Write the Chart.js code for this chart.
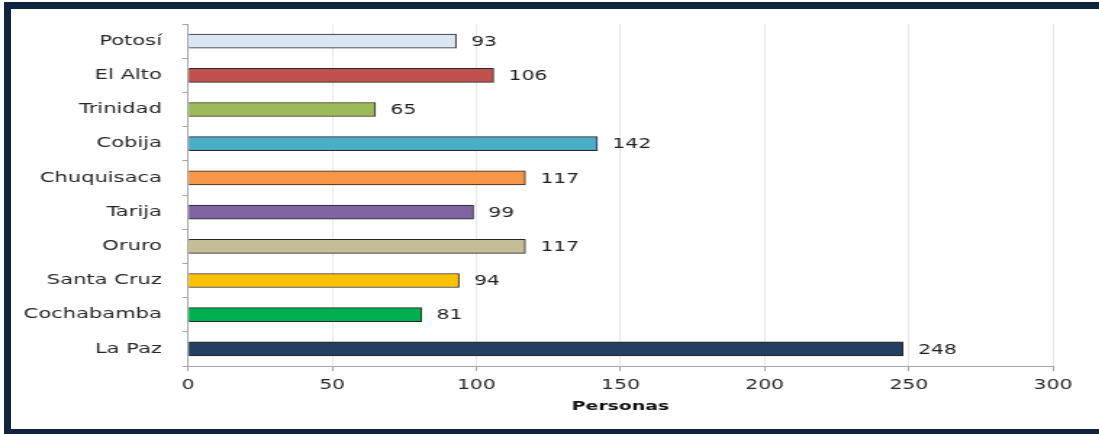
<!DOCTYPE html>
<html>
<head>
<meta charset="utf-8">
<script src="https://cdn.jsdelivr.net/npm/chart.js@4.4.1/dist/chart.umd.min.js"></script>
<style>
html, body { margin: 0; padding: 0; background: #fff; }
#wrap { position: relative; width: 1099px; height: 434px; overflow: hidden; }
#frame {
    position: absolute; left: 4px; top: 2px; width: 1095px; height: 432px;
    box-sizing: border-box;
    border-top: 7px solid #10243f; border-left: 7px solid #10243f; border-bottom: 5px solid #10243f;
}
/* the picture is stretched sideways, so draw narrow and widen it */
#chart { position: absolute; left: 0; top: 0; transform: scaleX(1.45); transform-origin: 0 0; }
</style>
</head>
<body>
<div id="wrap">
    <div id="frame"></div>
    <canvas id="chart" width="758" height="434"></canvas>
</div>
<script>
const categories = ['Potosí', 'El Alto', 'Trinidad', 'Cobija', 'Chuquisaca', 'Tarija', 'Oruro', 'Santa Cruz', 'Cochabamba', 'La Paz'];
const personas = [93, 106, 65, 142, 117, 99, 117, 94, 81, 248];
const barColors = ['#dce6f2', '#c0504d', '#9bbb59', '#4bacc6', '#f79646', '#8064a2', '#c4bd97', '#ffc000', '#00b050', '#243f60'];
const xTicks = [0, 50, 100, 150, 200, 250, 300];

const S = 1.45; // horizontal stretch
const FONT = 'DejaVu Sans';

// value labels at the end of each bar
const valueLabels = {
    id: 'valueLabels',
    afterDatasetsDraw(chart) {
        const ctx = chart.ctx;
        const meta = chart.getDatasetMeta(0);
        ctx.save();
        ctx.font = '14px "' + FONT + '"';
        ctx.fillStyle = '#1f1f1f';
        ctx.textAlign = 'left';
        ctx.textBaseline = 'middle';
        meta.data.forEach((bar, i) => {
            ctx.fillText(String(personas[i]), bar.x + 15 / S, bar.y + 1);
        });
        ctx.restore();
    }
};

new Chart(document.getElementById('chart'), {
    type: 'bar',
    data: {
        labels: categories,
        datasets: [{
            data: personas,
            backgroundColor: barColors,
            borderColor: '#262626',
            borderWidth: 1,
            barThickness: 14
        }]
    },
    plugins: [valueLabels],
    options: {
        indexAxis: 'y',
        responsive: false,
        animation: false,
        layout: { padding: { left: 0, top: 24, right: 758 - 1053 / S, bottom: 16 } },
        plugins: {
            legend: { display: false },
            tooltip: { enabled: false }
        },
        scales: {
            x: {
                min: xTicks[0],
                max: xTicks[xTicks.length - 1],
                afterBuildTicks: (scale) => { scale.ticks = xTicks.map(v => ({ value: v })); },
                afterFit: (scale) => { scale.height = 52; },
                grid: { color: '#e8e8e8', tickColor: '#a6a6a6', tickLength: 5 },
                border: { color: '#a6a6a6' },
                ticks: { color: '#262626', padding: 6, font: { family: FONT, size: 14 } },
                title: {
                    display: true,
                    text: 'Personas',
                    color: '#111',
                    padding: { top: 4, bottom: 4 },
                    font: { family: FONT, size: 13, weight: 'bold' }
                }
            },
            y: {
                afterFit: (scale) => { scale.width = 188 / S; },
                grid: { drawOnChartArea: false, offset: true, color: '#a6a6a6', tickLength: 4 },
                border: { color: '#a6a6a6' },
                ticks: { color: '#262626', padding: 14, font: { family: FONT, size: 14.5 } }
            }
        }
    }
});
</script>
</body>
</html>
